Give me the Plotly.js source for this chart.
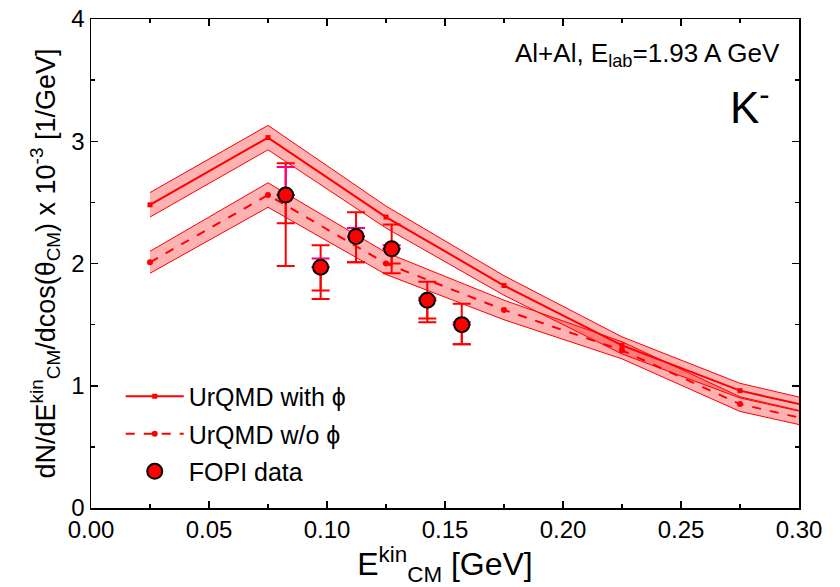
<!DOCTYPE html>
<html>
<head>
<meta charset="utf-8">
<script src="https://cdn.plot.ly/plotly-3.0.1.min.js"></script>
<style>html,body{margin:0;padding:0;background:#fff;}#chart{width:840px;height:587px;}</style>
</head>
<body>
<div id="chart"></div>
<script>
// UrQMD model curves (last point lies beyond the axis range and is clipped)
const modelE = [0.025, 0.075, 0.125, 0.175, 0.225, 0.275, 0.325];
const withPhi = [2.48, 3.03, 2.38, 1.82, 1.33, 0.96, 0.74];
const withPhiBand = [0.10, 0.10, 0.09, 0.08, 0.07, 0.06, 0.055];
const withoutPhi = [2.01, 2.56, 2.00, 1.62, 1.29, 0.85, 0.63];
const withoutPhiBand = [0.09, 0.10, 0.09, 0.08, 0.07, 0.06, 0.055];

// FOPI data
const fopiE = [0.0825, 0.0973, 0.1123, 0.1274, 0.1425, 0.1571];
const fopiY = [2.56, 1.97, 2.22, 2.12, 1.70, 1.50];
const sysUp = [0.26, 0.18, 0.20, 0.20, 0.15, 0.17];
const sysDown = [0.58, 0.26, 0.21, 0.20, 0.18, 0.16];
const innerDown = [0.23, 0.19, 0.21, 0.12, 0.15, 0.16];
const statUp = [0.23, 0.07, 0.07, 0.03, 0.02, 0.02];

const RED = 'rgb(255,0,0)';
const BAND = 'rgba(255,0,0,0.3)';
const FONT = 'Arial, "Liberation Sans", sans-serif';

function add(a, b, s) { return a.map((v, i) => v + s * b[i]); }

const traces = [];
function band(vals, errs) {
  traces.push({x: modelE, y: add(vals, errs, 1), mode: 'lines', line: {color: RED, width: 1},
    showlegend: false, hoverinfo: 'skip'});
  traces.push({x: modelE, y: add(vals, errs, -1), mode: 'lines', line: {color: RED, width: 1},
    fill: 'tonexty', fillcolor: BAND, showlegend: false, hoverinfo: 'skip'});
}
band(withPhi, withPhiBand);
band(withoutPhi, withoutPhiBand);

traces.push({x: modelE, y: withPhi, mode: 'lines+markers', name: 'UrQMD with \u03D5',
  line: {color: RED, width: 2}, marker: {symbol: 'square', size: 5, color: RED}, legendgroup: 'a'});
traces.push({x: modelE, y: withoutPhi, mode: 'lines+markers', name: 'UrQMD w/o \u03D5',
  line: {color: RED, width: 2, dash: 'dash'}, marker: {symbol: 'circle', size: 6, color: RED}, legendgroup: 'b'});

// error bars
traces.push({x: fopiE, y: fopiY, mode: 'markers', marker: {size: 1, color: 'rgba(0,0,0,0)'}, showlegend: false,
  error_y: {type: 'data', symmetric: false, array: sysUp, arrayminus: sysDown, color: RED, thickness: 2, width: 9}});
traces.push({x: fopiE, y: fopiY, mode: 'markers', marker: {size: 1, color: 'rgba(0,0,0,0)'}, showlegend: false,
  error_y: {type: 'data', symmetric: false, array: fopiY.map(() => 0), arrayminus: innerDown, color: RED, thickness: 2, width: 9}});
traces.push({x: fopiE, y: fopiY, mode: 'markers', marker: {size: 1, color: 'rgba(0,0,0,0)'}, showlegend: false,
  error_y: {type: 'data', symmetric: false, array: statUp, arrayminus: fopiY.map(() => 0), color: 'rgb(255,0,128)', thickness: 2, width: 9}});

traces.push({x: fopiE, y: fopiY, mode: 'markers', name: 'FOPI data', legendgroup: 'c',
  marker: {symbol: 'circle', size: 15, color: RED, line: {color: 'black', width: 2}}});

const axisCommon = {
  showline: true, linecolor: 'black', linewidth: 1.5, mirror: 'ticks',
  ticks: 'inside', ticklen: 7, tickwidth: 1.5, tickcolor: 'black',
  showgrid: false, zeroline: false,
  tickfont: {family: FONT, size: 24, color: 'black'}
};

const layout = {
  width: 840, height: 587,
  margin: {l: 91, r: 41, t: 19, b: 79},
  paper_bgcolor: 'white', plot_bgcolor: 'white',
  font: {family: FONT, color: 'black'},
  xaxis: Object.assign({}, axisCommon, {
    range: [0, 0.30], dtick: 0.05, tick0: 0, tickformat: '.2f',
    minor: {ticks: 'inside', dtick: 0.025, ticklen: 4, tickwidth: 1.5, tickcolor: 'black'},
    title: {text: 'E<sup>kin</sup><sub>CM</sub> [GeV]', font: {family: FONT, size: 32}, standoff: 2}
  }),
  yaxis: Object.assign({}, axisCommon, {
    range: [0, 4], dtick: 1, tick0: 0,
    minor: {ticks: 'inside', dtick: 0.5, ticklen: 4, tickwidth: 1.5, tickcolor: 'black'},
    title: {text: 'dN/dE<sup>kin</sup><sub>CM</sub>/dcos(\u03B8<sub>CM</sub>) x 10<sup>-3</sup> [1/GeV]',
      font: {family: FONT, size: 27}, standoff: 8}
  }),
  showlegend: true,
  legend: {x: 0.042, y: 0.275, xanchor: 'left', yanchor: 'top', bgcolor: 'rgba(0,0,0,0)',
    font: {family: FONT, size: 25}, tracegroupgap: 2, traceorder: 'grouped', itemwidth: 58},
  annotations: [
    {xref: 'paper', yref: 'paper', x: 0.976, y: 0.965, xanchor: 'right', yanchor: 'top', showarrow: false,
      text: 'Al+Al, E<sub>lab</sub>=1.93 A GeV', font: {family: FONT, size: 26}},
    {xref: 'paper', yref: 'paper', x: 0.962, y: 0.885, xanchor: 'right', yanchor: 'top', showarrow: false,
      text: 'K<sup>-</sup>', font: {family: FONT, size: 44}}
  ]
};

Plotly.newPlot('chart', traces, layout, {displayModeBar: false, staticPlot: true});
</script>
</body>
</html>
